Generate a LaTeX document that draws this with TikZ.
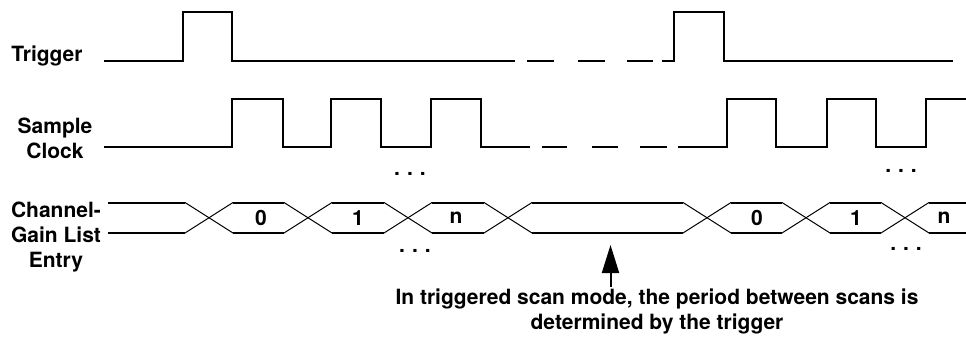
\documentclass[tikz,border=0pt]{standalone}
\usepackage{fontspec}
\setmainfont{TeX Gyre Heros}
\usetikzlibrary{arrows.meta}

\begin{document}
\begin{tikzpicture}[x=1pt,y=-1pt,
  lbl/.style={font=\fontsize{21}{25}\selectfont\bfseries,inner sep=0pt,align=center},
  wave/.style={line width=2pt},
  xing/.style={line width=1pt}]
  % Pixel coordinates, y grows downwards.
  \useasboundingbox (0,0) rectangle (966,337);

  % Signal names.
  \node[lbl,anchor=base] (trig) at (47,62) {Trigger};
  \node[lbl,anchor=base] (clk) at (55,158) {Sample\\Clock};
  \node[lbl,anchor=base] (cgl) at (56,267) {Channel-\\Gain List\\Entry};

  % Trigger: one pulse per scan.
  \draw[wave] (104,61) -| (183,12) -| (232,61) -- (515,61);
  \foreach \a/\b in {527/554,578/605,627/653}
    \draw[wave] (\a,61) -- (\b,61);
  \draw[wave] (662,61) -| (674,12) -| (724,61) -- (953,61);

  % Sample clock.
  \draw[wave] (104,147) -| (232,99) -| (283,147) -| (331,99) -| (381,147)
    -| (431,99) -| (481,147) -- (530,147);
  \foreach \a/\b in {542/567,592/618,640/667}
    \draw[wave] (\a,147) -- (\b,147);
  \draw[wave] (678,147) -| (727,99) -| (776,147) -| (827,99) -| (876,147)
    -| (926,99) -- (966,99);

  % Channel-gain list bus: top at 202.5, bottom at 233.
  \foreach \a/\b in {108/185,233/284,332/384,432/484,532/683,731/782,830/881,929/966}{
    \draw[wave] (\a,202.5) -- (\b,202.5);
    \draw[wave] (\a,233) -- (\b,233);
  }
  \foreach \c in {209,308,408,508,707,806,905}{
    \draw[xing] ({\c-24},202.5) -- ({\c+24},233);
    \draw[xing] ({\c-24},233) -- ({\c+24},202.5);
  }

  % Entry numbers.
  \foreach \x/\t [count=\i] in {261/0,358/1,456/n,757/0,856/1,944/n}
    \node[lbl] (e\i) at (\x,218) {\t};

  % Repeats.
  \foreach \x/\y [count=\i] in {410/175,415/252,901/172,906/250}
    \node[lbl,anchor=base] (d\i) at (\x,\y) {.\hspace{7pt}.\hspace{7pt}.};

  % Note on the gap between scans.
  \node[lbl,anchor=base] (note) at (657,329)
    {In triggered scan mode, the period between scans is\\determined by the trigger};
  \coordinate (gap) at (610.5,245);
  \draw[line width=2pt,-{Triangle[length=28pt,width=17pt]}] (610.5,287) -- (gap);
\end{tikzpicture}
\end{document}
